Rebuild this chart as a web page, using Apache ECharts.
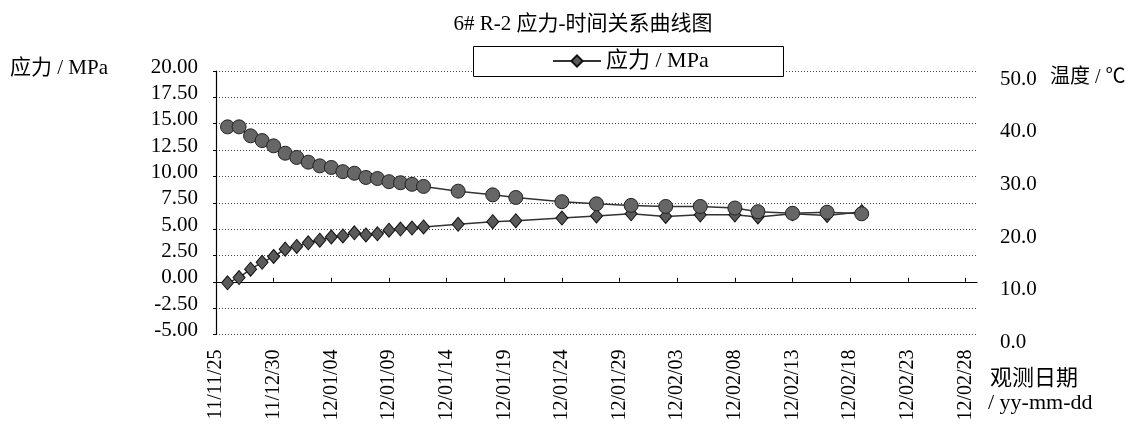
<!DOCTYPE html>
<html>
<head>
<meta charset="utf-8">
<script src="https://cdn.jsdelivr.net/npm/echarts@6/dist/echarts.min.js"></script>
<style>html,body{margin:0;padding:0;background:#fff;}#c{width:1140px;height:430px;}</style>
</head>
<body>
<div id="c"></div>
<script>
// day offsets from the first axis label
const days = [1,2,3,4,5,6,7,8,9,10,11,12,13,14,15,16,17,18,21,24,26,30,33,36,39,42,45,47,50,53,56];
// stress (MPa, left axis)
const stress = [-0.1,0.4,1.2,1.85,2.4,3.1,3.35,3.7,3.95,4.25,4.35,4.65,4.45,4.55,4.9,5.0,5.1,5.2,5.45,5.7,5.8,6.05,6.25,6.45,6.2,6.35,6.35,6.15,6.45,6.3,6.65];
// temperature (°C, right axis)
const temperature = [39.4,39.4,37.7,36.8,35.8,34.4,33.6,32.7,32.0,31.7,30.9,30.6,29.8,29.6,29.0,28.8,28.5,28.1,27.2,26.5,26.0,25.2,24.8,24.5,24.3,24.3,24.0,23.3,23.0,23.2,22.9];
// x tick labels every 5 days
const tickLabels = ['11/11/25','11/12/30','12/01/04','12/01/09','12/01/14','12/01/19','12/01/24','12/01/29','12/02/03','12/02/08','12/02/13','12/02/18','12/02/23','12/02/28'];
const tickDays = tickLabels.map((_, i) => i * 5);

const FONT = "'Liberation Serif', 'Noto Sans CJK SC', serif";
const chart = echarts.init(document.getElementById('c'));
chart.setOption({
  animation: false,
  backgroundColor: '#fff',
  textStyle: { fontFamily: FONT, color: '#000' },
  title: {
    text: '6# R-2 应力-时间关系曲线图',
    left: 578, textAlign: 'center', top: 9,
    textStyle: { fontFamily: FONT, fontSize: 21, fontWeight: 'normal', color: '#000' }
  },
  legend: {
    data: ['应力 / MPa'],
    left: 552, top: 50, padding: 0,
    itemWidth: 48, itemHeight: 14, itemGap: 6,
    textStyle: { fontFamily: FONT, fontSize: 22, color: '#000' },
    z: 20
  },
  grid: { left: 216, right: 163, top: 71, bottom: 95.5, containLabel: false },
  xAxis: [
    {
      type: 'value', min: 0, max: 66, position: 'bottom',
      axisLine: { show: true, onZero: true, onZeroAxisIndex: 0, lineStyle: { color: '#000', width: 1.2 } },
      axisTick: { show: true, inside: true, length: 4, customValues: tickDays, lineStyle: { color: '#000' } },
      axisLabel: { show: false },
      splitLine: { show: false }
    },
    {
      type: 'value', min: 0, max: 66, position: 'bottom',
      axisLine: { show: false, onZero: false },
      axisTick: { show: false },
      axisLabel: {
        show: true, rotate: 90, margin: 15, customValues: tickDays,
        fontFamily: FONT, fontSize: 20, color: '#000',
        formatter: v => tickLabels[Math.round(v / 5)]
      },
      splitLine: { show: false }
    }
  ],
  yAxis: [
    {
      type: 'value', min: -5, max: 20, interval: 2.5, position: 'left',
      axisLine: { show: true, lineStyle: { color: '#000', width: 1.2 } },
      axisTick: { show: true, length: 3, lineStyle: { color: '#000' } },
      axisLabel: { margin: 18, fontFamily: FONT, fontSize: 21, color: '#000', verticalAlign: 'bottom', lineHeight: 8, formatter: v => v.toFixed(2) },
      splitLine: { show: true, lineStyle: { color: '#444', type: [1, 2], width: 1 } }
    },
    {
      type: 'value', min: 0, max: 50, interval: 10, position: 'right',
      axisLine: { show: false }, axisTick: { show: false },
      axisLabel: { margin: 23, fontFamily: FONT, fontSize: 21, color: '#000', verticalAlign: 'top', lineHeight: 16, formatter: v => v.toFixed(1) },
      splitLine: { show: false }
    }
  ],
  graphic: [
    { type: 'rect', left: 473, top: 46, shape: { width: 310, height: 30 }, style: { fill: '#fff', stroke: '#000', lineWidth: 1 }, z: 10 },
    { type: 'text', left: 10, top: 58, style: { text: '应力 / MPa', font: "21px " + FONT, fill: '#000' } },
    { type: 'text', left: 1050, top: 68, style: { text: '温度 / ℃', font: "20px " + FONT, fill: '#000' } },
    { type: 'text', left: 990, top: 368, style: { text: '观测日期', font: "22px " + FONT, fill: '#000' } },
    { type: 'text', left: 988, top: 392, style: { text: '/ yy-mm-dd', font: "22px " + FONT, fill: '#000' } }
  ],
  series: [
    {
      name: '应力 / MPa', type: 'line', xAxisIndex: 0, yAxisIndex: 0,
      data: days.map((d, i) => [d, stress[i]]),
      symbol: 'diamond', symbolSize: [12, 14],
      lineStyle: { color: '#333', width: 1.5 },
      itemStyle: { color: '#5a5a5a', borderColor: '#111', borderWidth: 1 },
      z: 3
    },
    {
      name: '温度', type: 'line', xAxisIndex: 0, yAxisIndex: 1,
      data: days.map((d, i) => [d, temperature[i]]),
      symbol: 'circle', symbolSize: 14,
      lineStyle: { color: '#333', width: 1.5 },
      itemStyle: { color: '#666', borderColor: '#222', borderWidth: 1 },
      z: 4
    }
  ]
});
</script>
</body>
</html>
